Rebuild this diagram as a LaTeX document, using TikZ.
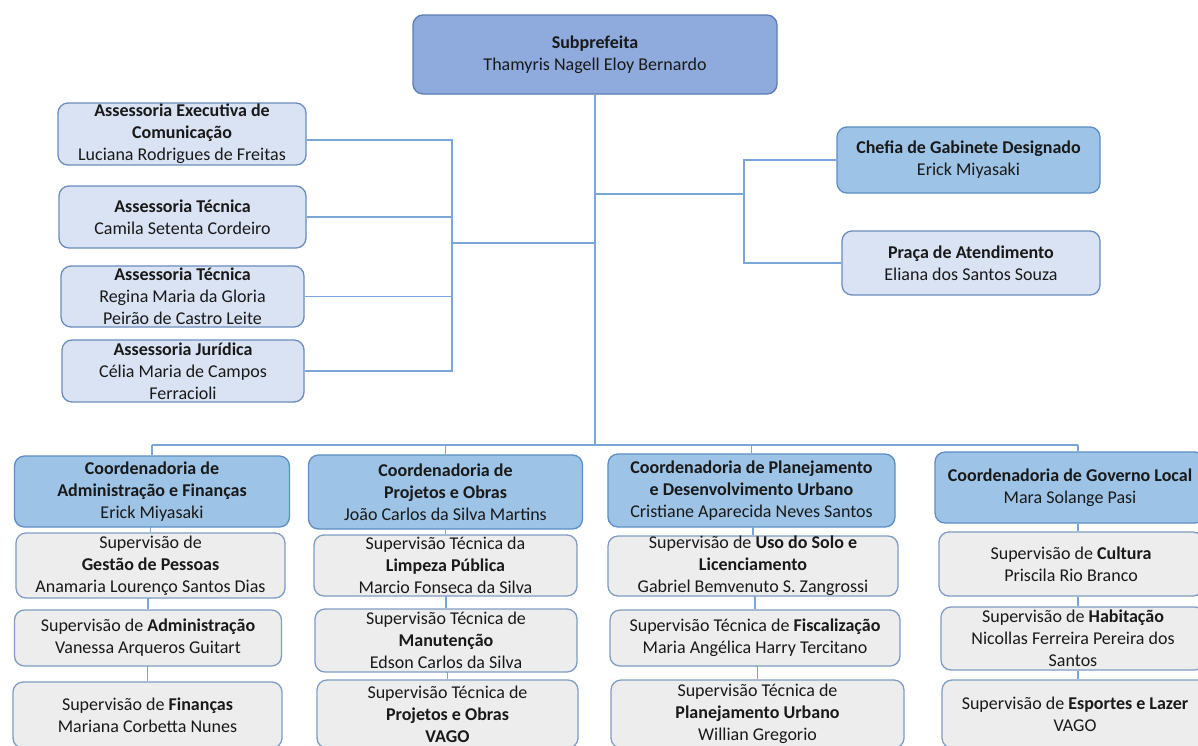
\documentclass[tikz,border=0pt]{standalone}
\usepackage{fontspec}
\setmainfont{Carlito}
\definecolor{wirec}{HTML}{7AA5D8}
\definecolor{subfill}{HTML}{8FAADC}
\definecolor{subdraw}{HTML}{5B7DB3}
\definecolor{assfill}{HTML}{DAE3F3}
\definecolor{assdraw}{HTML}{6A8CBE}
\definecolor{coordfill}{HTML}{9DC3E6}
\definecolor{coorddraw}{HTML}{5B8EC4}
\definecolor{supfill}{HTML}{EDEDED}
\definecolor{supdraw}{HTML}{7F9CC4}
\tikzset{
  box/.style={rounded corners=10pt, line width=1.3pt, inner sep=0pt, align=center,
    font=\fontsize{18}{22}\selectfont, text=black!90},
  topbox/.style={box, fill=subfill, draw=subdraw},
  assbox/.style={box, fill=assfill, draw=assdraw},
  coordbox/.style={box, fill=coordfill, draw=coorddraw},
  supbox/.style={box, fill=supfill, draw=supdraw},
  wire/.style={draw=wirec, line width=1.2pt}
}
\begin{document}
\begin{tikzpicture}[x=1pt,y=-1pt]
  \useasboundingbox (0,0) rectangle (1198,745);
  \clip (0,0) rectangle (1198,745);
  % top
  \node[topbox, minimum width=364pt, minimum height=79pt] (sub) at (595,54.5)
    {\textbf{Subprefeita}\\Thamyris Nagell Eloy Bernardo};
  % assessorias
  \node[assbox, minimum width=248pt, minimum height=62pt] (ase) at (182,134)
    {\textbf{Assessoria Executiva de}\\\textbf{Comunicação}\\Luciana Rodrigues de Freitas};
  \node[assbox, minimum width=247pt, minimum height=62pt] (ast1) at (182.5,217)
    {\textbf{Assessoria Técnica}\\Camila Setenta Cordeiro};
  \node[assbox, minimum width=243pt, minimum height=61pt] (ast2) at (182.5,296.5)
    {\textbf{Assessoria Técnica}\\Regina Maria da Gloria\\Peirão de Castro Leite};
  \node[assbox, minimum width=242pt, minimum height=62pt] (ajur) at (183,371)
    {\textbf{Assessoria Jurídica}\\Célia Maria de Campos\\Ferracioli};
  \node[coordbox, minimum width=263pt, minimum height=66pt] (chefia) at (968.5,160)
    {\textbf{Chefia de Gabinete Designado}\\Erick Miyasaki};
  \node[assbox, minimum width=258pt, minimum height=64pt] (praca) at (971,263)
    {\textbf{Praça de Atendimento}\\Eliana dos Santos Souza};
  % coordenadorias
  \node[coordbox, minimum width=275pt, minimum height=71pt] (c1) at (152,491.5)
    {\textbf{Coordenadoria de}\\\textbf{Administração e Finanças}\\Erick Miyasaki};
  \node[coordbox, minimum width=274pt, minimum height=74pt] (c2) at (445.5,492)
    {\textbf{Coordenadoria de}\\\textbf{Projetos e Obras}\\João Carlos da Silva Martins};
  \node[coordbox, minimum width=287pt, minimum height=73pt] (c3) at (751.5,490.5)
    {\textbf{Coordenadoria de Planejamento}\\\textbf{e Desenvolvimento Urbano}\\Cristiane Aparecida Neves Santos};
  \node[coordbox, minimum width=270pt, minimum height=71pt] (c4) at (1070,487.5)
    {\textbf{Coordenadoria de Governo Local}\\Mara Solange Pasi};
  % supervisoes
  \node[supbox, minimum width=269pt, minimum height=65pt] (s11) at (150.5,565.5)
    {Supervisão de\\\textbf{Gestão de Pessoas}\\Anamaria Lourenço Santos Dias};
  \node[supbox, minimum width=267pt, minimum height=56pt] (s12) at (148,638)
    {Supervisão de \textbf{Administração}\\Vanessa Arqueros Guitart};
  \node[supbox, minimum width=269pt, minimum height=66pt] (s13) at (147.5,715)
    {Supervisão de \textbf{Finanças}\\Mariana Corbetta Nunes};
  \node[supbox, minimum width=263pt, minimum height=61pt] (s21) at (445.5,565.5)
    {Supervisão Técnica da\\\textbf{Limpeza Pública}\\Marcio Fonseca da Silva};
  \node[supbox, minimum width=262pt, minimum height=63pt] (s22) at (446,640.5)
    {Supervisão Técnica de\\\textbf{Manutenção}\\Edson Carlos da Silva};
  \node[supbox, minimum width=261pt, minimum height=68pt] (s23) at (447.5,714)
    {Supervisão Técnica de\\\textbf{Projetos e Obras}\\\textbf{VAGO}};
  \node[supbox, minimum width=290pt, minimum height=60pt] (s31) at (753,566)
    {Supervisão de \textbf{Uso do Solo e}\\\textbf{Licenciamento}\\Gabriel Bemvenuto S. Zangrossi};
  \node[supbox, minimum width=290pt, minimum height=56pt] (s32) at (755,638)
    {Supervisão Técnica de \textbf{Fiscalização}\\Maria Angélica Harry Tercitano};
  \node[supbox, minimum width=293pt, minimum height=68pt] (s33) at (757.5,714)
    {Supervisão Técnica de\\\textbf{Planejamento Urbano}\\Willian Gregorio};
  \node[supbox, minimum width=264pt, minimum height=64pt] (s41) at (1071,564)
    {Supervisão de \textbf{Cultura}\\Priscila Rio Branco};
  \node[supbox, minimum width=264pt, minimum height=63pt] (s42) at (1073,638.5)
    {Supervisão de \textbf{Habitação}\\Nicollas Ferreira Pereira dos\\Santos};
  \node[supbox, minimum width=266pt, minimum height=68pt] (s43) at (1075,714)
    {Supervisão de \textbf{Esportes e Lazer}\\VAGO};
  % junctions
  \coordinate (lj) at (452,243);
  \coordinate (rj) at (744,194);
  \coordinate (bus) at (595,445);
  \coordinate (busl) at (152,445);
  \coordinate (busr) at (1078,445);
  % connectors
  \draw[wire] (sub.south) -- (bus);
  \draw[wire] ([yshift=-6pt]ase.east) -| (lj);
  \draw[wire] (ajur.east) -| (lj);
  \draw[wire] (ast1.east) -- (ast1.east -| lj);
  \draw[wire] (ast2.east) -- (ast2.east -| lj);
  \draw[wire] (lj) -- (lj -| bus);
  \draw[wire] (chefia.west) -| (rj);
  \draw[wire] (praca.west) -| (rj);
  \draw[wire] (rj) -- (rj -| bus);
  \draw[wire] (busl) -- (busr);
  \foreach \c in {c1,c2,c3}
    \draw[wire] (\c.north) -- (\c.north |- bus);
  \draw[wire] (busr) -- (busr |- c4.north);
  \foreach \a/\b in {c1/s11,s11/s12,s12/s13,c2/s21,s21/s22,s22/s23,c3/s31,s31/s32,s32/s33}
    \draw[wire] (\a.south) -- (\a.south -| \b.north) -- (\b.north);
  \draw[wire] (busr |- c4.south) -- (busr |- s41.north);
  \draw[wire] (busr |- s41.south) -- (busr |- s42.north);
  \draw[wire] (busr |- s42.south) -- (busr |- s43.north);
\end{tikzpicture}
\end{document}
